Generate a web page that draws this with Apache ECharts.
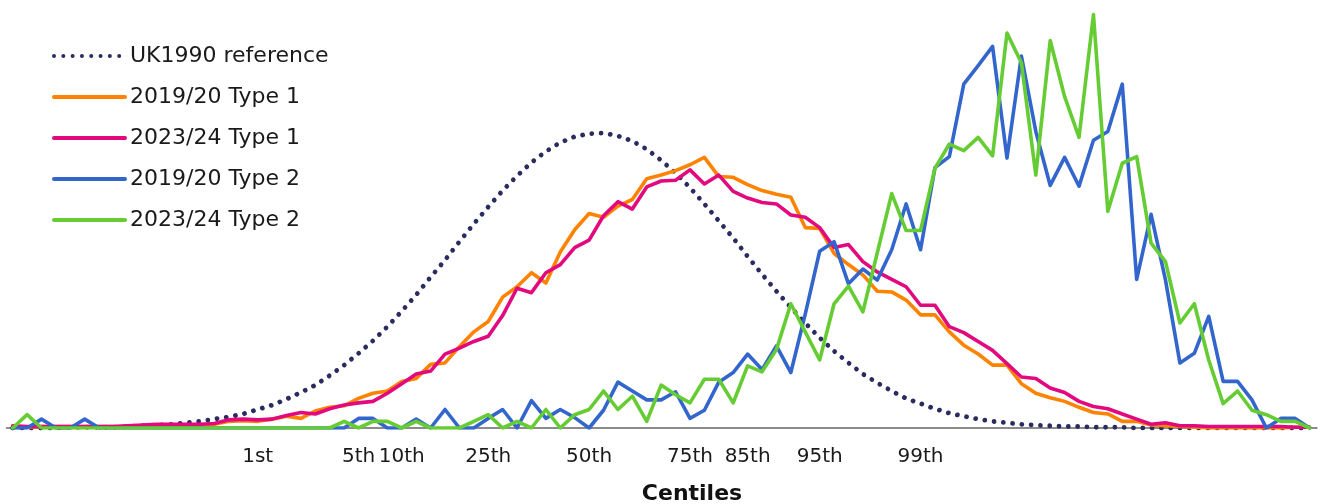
<!DOCTYPE html>
<html>
<head>
<meta charset="utf-8">
<script src="https://cdn.jsdelivr.net/npm/echarts@6/dist/echarts.min.js"></script>
<style>
html,body{margin:0;padding:0;background:#fff;}
#chart{width:1320px;height:504px;}
</style>
</head>
<body>
<div id="chart"></div>
<script>
// BMI SDS bins (category axis)
const sdsCategories = ['-4.0','-3.9','-3.8','-3.7','-3.6','-3.5','-3.4','-3.3','-3.2','-3.1',
'-3.0','-2.9','-2.8','-2.7','-2.6','-2.5','-2.4','-2.3','-2.2','-2.1',
'-2.0','-1.9','-1.8','-1.7','-1.6','-1.5','-1.4','-1.3','-1.2','-1.1',
'-1.0','-0.9','-0.8','-0.7','-0.6','-0.5','-0.4','-0.3','-0.2','-0.1',
'0.0','0.1','0.2','0.3','0.4','0.5','0.6','0.7','0.8','0.9',
'1.0','1.1','1.2','1.3','1.4','1.5','1.6','1.7','1.8','1.9',
'2.0','2.1','2.2','2.3','2.4','2.5','2.6','2.7','2.8','2.9',
'3.0','3.1','3.2','3.3','3.4','3.5','3.6','3.7','3.8','3.9',
'4.0','4.1','4.2','4.3','4.4','4.5','4.6','4.7','4.8','4.9',
'5.0'];

// Tick labels (centiles) and the categories they sit on
const tickCategories = ['-2.3','-1.6','-1.3','-0.7','0.0','0.7','1.1','1.6','2.3'];
const tickLabels = ['1st','5th','10th','25th','50th','75th','85th','95th','99th'];

const seriesNames = ['UK1990 reference','2019/20 Type 1','2023/24 Type 1','2019/20 Type 2','2023/24 Type 2'];

const uk1990 = [0.00,0.00,0.00,0.00,0.01,0.01,0.01,0.01,0.02,0.03,
0.04,0.05,0.07,0.09,0.12,0.15,0.19,0.25,0.31,0.39,
0.48,0.58,0.71,0.85,1.01,1.18,1.37,1.58,1.80,2.04,
2.27,2.52,2.76,2.99,3.21,3.41,3.59,3.74,3.86,3.94,
3.98,3.99,3.95,3.88,3.77,3.62,3.45,3.25,3.03,2.80,
2.57,2.32,2.08,1.85,1.63,1.42,1.22,1.04,0.88,0.73,
0.61,0.50,0.40,0.33,0.26,0.20,0.16,0.12,0.09,0.07,
0.05,0.04,0.03,0.02,0.02,0.01,0.01,0.01,0.00,0.00,
0,0,0,0,0,0,0,0,0,0,
0];

const type1_1920 = [0.01,0.01,0.02,0.02,0.02,0.02,0.02,0.02,0.02,0.03,
0.04,0.04,0.04,0.04,0.05,0.09,0.10,0.09,0.12,0.16,
0.13,0.23,0.28,0.30,0.40,0.47,0.50,0.63,0.67,0.86,
0.88,1.10,1.30,1.44,1.77,1.91,2.10,1.96,2.38,2.68,
2.90,2.85,3.00,3.09,3.37,3.42,3.48,3.56,3.66,3.40,
3.39,3.29,3.21,3.16,3.12,2.71,2.70,2.36,2.21,2.07,
1.85,1.84,1.73,1.53,1.53,1.30,1.12,1.00,0.85,0.85,
0.60,0.47,0.41,0.36,0.28,0.21,0.19,0.09,0.09,0.04,
0.03,0.02,0.01,0.00,0.00,0,0,0,0,0.01,
0.01];

const type1_2324 = [0.03,0.02,0.02,0.02,0.02,0.02,0.02,0.02,0.03,0.04,
0.05,0.05,0.05,0.05,0.06,0.11,0.12,0.11,0.12,0.17,
0.21,0.19,0.26,0.31,0.34,0.36,0.47,0.60,0.73,0.77,
1.00,1.08,1.17,1.24,1.52,1.89,1.83,2.10,2.21,2.44,
2.54,2.87,3.06,2.96,3.26,3.34,3.35,3.49,3.30,3.42,
3.20,3.11,3.05,3.03,2.88,2.85,2.71,2.44,2.48,2.25,
2.11,2.01,1.91,1.66,1.66,1.37,1.29,1.17,1.05,0.87,
0.69,0.67,0.54,0.48,0.36,0.29,0.26,0.19,0.12,0.05,
0.07,0.03,0.03,0.02,0.02,0.02,0.02,0.02,0.02,0.01,
0.01];

const type2_1920 = [0,0,0.12,0,0,0.12,0,0,0,0,
0,0,0,0,0,0,0,0,0,0,
0,0,0,0,0.13,0.13,0,0,0.12,0,
0.25,0,0,0.13,0.25,0,0.37,0.13,0.25,0.14,
0,0.24,0.62,0.50,0.38,0.38,0.49,0.13,0.24,0.62,
0.75,1.00,0.79,1.11,0.75,1.54,2.39,2.52,1.95,2.15,
2.00,2.41,3.03,2.41,3.52,3.67,4.65,4.90,5.16,3.65,
5.03,4.01,3.28,3.66,3.27,3.89,4.01,4.65,2.01,2.89,
2.00,0.88,1.01,1.51,0.63,0.63,0.38,0,0.13,0.13,
0];

const type2_2324 = [0,0.18,0,0,0,0,0,0,0,0,
0,0,0,0,0,0,0,0,0,0,
0,0,0,0.09,0,0.09,0.09,0,0.09,0,
0,0,0.09,0.18,0,0.09,0,0.25,0,0.18,
0.25,0.50,0.25,0.43,0.09,0.58,0.45,0.34,0.66,0.66,
0.34,0.84,0.76,1.06,1.68,1.30,0.92,1.68,1.92,1.57,
2.37,3.17,2.67,2.67,3.51,3.84,3.75,3.93,3.68,5.34,
4.94,3.42,5.24,4.48,3.93,5.59,2.93,3.58,3.67,2.50,
2.25,1.42,1.68,0.92,0.33,0.50,0.24,0.18,0.09,0.09,
0];

const FONT = 'DejaVu Sans';
const chart = echarts.init(document.getElementById('chart'), null, {renderer: 'canvas'});

function lineSeries(name, data, color) {
  return {
    name: name, type: 'line', data: data, symbol: 'none', smooth: false,
    xAxisIndex: 0, yAxisIndex: 0,
    lineStyle: {color: color, width: 3.6, cap: 'round', join: 'round'},
    itemStyle: {color: color},
    emphasis: {disabled: true}
  };
}

chart.setOption({
  animation: false,
  grid: [
    {left: 12.7, right: 10.4, top: 5, bottom: 76},
    {left: 6.7, right: 3.3, top: 5, bottom: 76}
  ],
  legend: {
    orient: 'vertical', left: 47, top: 40,
    itemWidth: 71, itemHeight: 14, itemGap: 19,
    itemStyle: {opacity: 0},
    lineStyle: {width: 4},
    textStyle: {fontFamily: FONT, fontSize: 22, color: '#1a1a1a'},
    data: seriesNames
  },
  graphic: [{
    type: 'text', x: 692, y: 494,
    style: {text: 'Centiles', font: 'bold 22px "DejaVu Sans"', fill: '#111',
            textAlign: 'center', textVerticalAlign: 'middle'}
  }],
  xAxis: [{
    type: 'category', gridIndex: 0, data: sdsCategories, boundaryGap: false,
    axisLine: {show: false},
    axisTick: {show: false},
    splitLine: {show: false},
    axisLabel: {
      show: true, margin: 19,
      fontFamily: FONT, fontSize: 20, color: '#1a1a1a',
      interval: function (index, value) { return tickCategories.indexOf(value) >= 0; },
      formatter: function (value) {
        const k = tickCategories.indexOf(value);
        return k >= 0 ? tickLabels[k] : '';
      }
    }
  }, {
    type: 'value', gridIndex: 1, min: 0, max: 1,
    axisLine: {show: true, lineStyle: {color: '#8c8c8c', width: 2}},
    axisTick: {show: false}, axisLabel: {show: false}, splitLine: {show: false}
  }],
  yAxis: [{
    type: 'value', gridIndex: 0, min: 0, max: 5.72, show: false, splitLine: {show: false}
  }, {
    type: 'value', gridIndex: 1, min: 0, max: 1, show: false, splitLine: {show: false}
  }],
  series: [
    {
      name: seriesNames[0], type: 'line', data: uk1990, symbol: 'none',
      xAxisIndex: 0, yAxisIndex: 0,
      lineStyle: {color: '#2a2b5e', width: 4.8, type: [0.01, 9.3], cap: 'round'},
      itemStyle: {color: '#2a2b5e'},
      emphasis: {disabled: true}
    },
    lineSeries(seriesNames[1], type1_1920, '#ff8300'),
    lineSeries(seriesNames[2], type1_2324, '#e2097f'),
    lineSeries(seriesNames[3], type2_1920, '#3366cc'),
    lineSeries(seriesNames[4], type2_2324, '#66cc33')
  ]
});
</script>
</body>
</html>
